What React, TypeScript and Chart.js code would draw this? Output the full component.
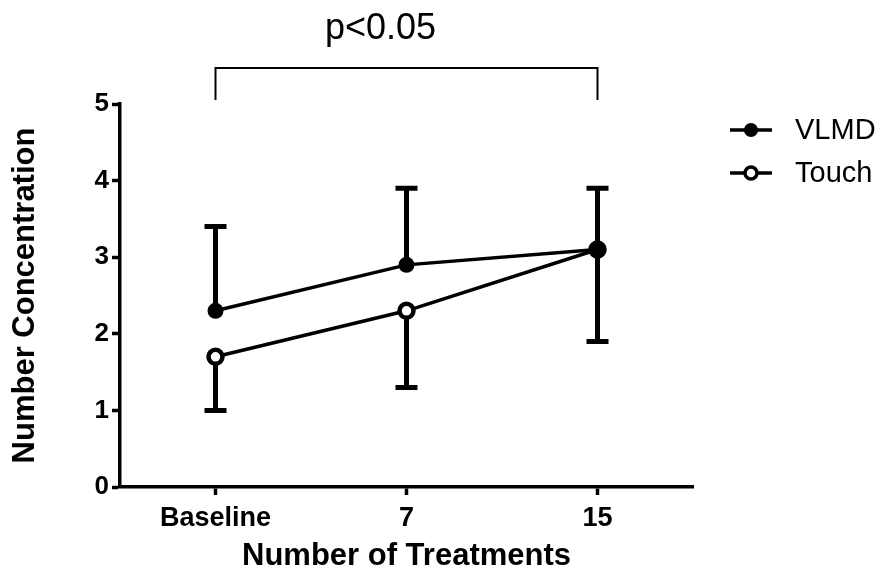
import React, { useEffect, useRef } from "react";
import { Chart, registerables } from "chart.js";

Chart.register(...registerables);

const categories = ["Baseline", "7", "15"];
const vlmdMean = [2.3, 2.9, 3.1];
const vlmdErr = [1.1, 1.0, 0.8];
const touchMean = [1.7, 2.3, 3.1];
const touchErr = [0.7, 1.0, 1.2];
const yTicks = [0, 1, 2, 3, 4, 5];
const seriesNames = ["VLMD", "Touch"];
const pText = "p<0.05";

const FONT = "Arial, 'Liberation Sans', sans-serif";

const overlayPlugin = {
  id: "overlay",
  beforeDatasetsDraw(chart: any) {
    const { ctx } = chart;
    const xs = chart.scales.x;
    const ys = chart.scales.y;
    ctx.save();
    ctx.strokeStyle = "#000";
    ctx.lineWidth = 5;
    ctx.lineCap = "butt";
    const cap = 11;
    for (let i = 0; i < categories.length; i++) {
      const x = xs.getPixelForValue(i);
      const y0 = ys.getPixelForValue(vlmdMean[i]);
      const y1 = ys.getPixelForValue(vlmdMean[i] + vlmdErr[i]);
      ctx.beginPath();
      ctx.moveTo(x, y0);
      ctx.lineTo(x, y1);
      ctx.moveTo(x - cap, y1);
      ctx.lineTo(x + cap, y1);
      ctx.stroke();
      const t0 = ys.getPixelForValue(touchMean[i]);
      const t1 = ys.getPixelForValue(touchMean[i] - touchErr[i]);
      ctx.beginPath();
      ctx.moveTo(x, t0);
      ctx.lineTo(x, t1);
      ctx.moveTo(x - cap, t1);
      ctx.lineTo(x + cap, t1);
      ctx.stroke();
    }
    ctx.restore();
  },
  afterDraw(chart: any) {
    const { ctx, chartArea } = chart;
    const xs = chart.scales.x;
    ctx.save();
    const xa = xs.getPixelForValue(0);
    const xb = xs.getPixelForValue(categories.length - 1);
    const yTop = chartArea.top - 36;
    const yBot = chartArea.top - 4;
    ctx.strokeStyle = "#000";
    ctx.lineWidth = 2;
    ctx.beginPath();
    ctx.moveTo(xa, yBot);
    ctx.lineTo(xa, yTop);
    ctx.lineTo(xb, yTop);
    ctx.lineTo(xb, yBot);
    ctx.stroke();
    ctx.fillStyle = "#000";
    ctx.font = `36px ${FONT}`;
    ctx.textAlign = "center";
    ctx.textBaseline = "alphabetic";
    ctx.fillText(pText, (xa + xb) / 2 - 26, 39);

    const lx = 730;
    const rows = [130, 173];
    ctx.font = `29px ${FONT}`;
    ctx.textAlign = "left";
    ctx.textBaseline = "middle";
    rows.forEach((ry, k) => {
      ctx.lineWidth = 3.5;
      ctx.strokeStyle = "#000";
      ctx.beginPath();
      ctx.moveTo(lx, ry);
      ctx.lineTo(lx + 42, ry);
      ctx.stroke();
      ctx.beginPath();
      if (k === 0) {
        ctx.arc(lx + 21, ry, 7, 0, Math.PI * 2);
        ctx.fillStyle = "#000";
        ctx.fill();
      } else {
        ctx.arc(lx + 21, ry, 6, 0, Math.PI * 2);
        ctx.fillStyle = "#fff";
        ctx.fill();
        ctx.lineWidth = 3.5;
        ctx.stroke();
      }
      ctx.fillStyle = "#000";
      ctx.fillText(seriesNames[k], 795, ry + 1);
    });
    ctx.restore();
  },
};

export default function App() {
  const ref = useRef<HTMLCanvasElement | null>(null);
  useEffect(() => {
    document.body.style.margin = "0";
    if (!ref.current) return;
    const axisCommon = {
      grid: {
        display: true,
        drawOnChartArea: false,
        drawTicks: true,
        tickLength: 8,
        tickWidth: 3.5,
        color: "#000",
        offset: false,
      },
      border: { display: true, width: 3.5, color: "#000" },
    };
    const chart = new Chart(ref.current, {
      type: "line",
      data: {
        labels: categories,
        datasets: [
          {
            label: seriesNames[0],
            data: vlmdMean,
            borderColor: "#000",
            backgroundColor: "#000",
            borderWidth: 3.5,
            pointRadius: 8,
            pointBorderWidth: 0,
            pointBackgroundColor: "#000",
            tension: 0,
          },
          {
            label: seriesNames[1],
            data: touchMean,
            borderColor: "#000",
            backgroundColor: "#fff",
            borderWidth: 3.5,
            pointRadius: 7,
            pointBorderWidth: 4.5,
            pointBackgroundColor: "#fff",
            pointBorderColor: "#000",
            tension: 0,
          },
        ],
      },
      options: {
        responsive: false,
        animation: false,
        layout: { padding: { left: 0, right: 191, top: 104, bottom: 0 } },
        plugins: {
          legend: { display: false },
          tooltip: { enabled: false },
        },
        scales: {
          x: {
            ...axisCommon,
            offset: true,
            ticks: {
              color: "#000",
              font: { family: FONT, size: 27, weight: "bold" },
              padding: 7,
              maxRotation: 0,
            },
            title: {
              display: true,
              text: "Number of Treatments",
              color: "#000",
              font: { family: FONT, size: 31, weight: "bold" },
              padding: 2,
            },
            afterFit(scale: any) {
              scale.height = 90;
            },
          },
          y: {
            ...axisCommon,
            min: 0,
            max: 5,
            afterBuildTicks(scale: any) {
              scale.ticks = yTicks.map((v) => ({ value: v }));
            },
            ticks: {
              color: "#000",
              font: { family: FONT, size: 26, weight: "bold" },
              padding: 3,
            },
            title: {
              display: true,
              text: "Number Concentration",
              color: "#000",
              font: { family: FONT, size: 31, weight: "bold" },
              padding: 7,
            },
            afterFit(scale: any) {
              scale.width = 120;
            },
          },
        },
      },
      plugins: [overlayPlugin],
    } as any);
    return () => chart.destroy();
  }, []);
  return (
    <div style={{ width: 884, height: 577, background: "#fff" }}>
      <canvas ref={ref} width={884} height={577} />
    </div>
  );
}
